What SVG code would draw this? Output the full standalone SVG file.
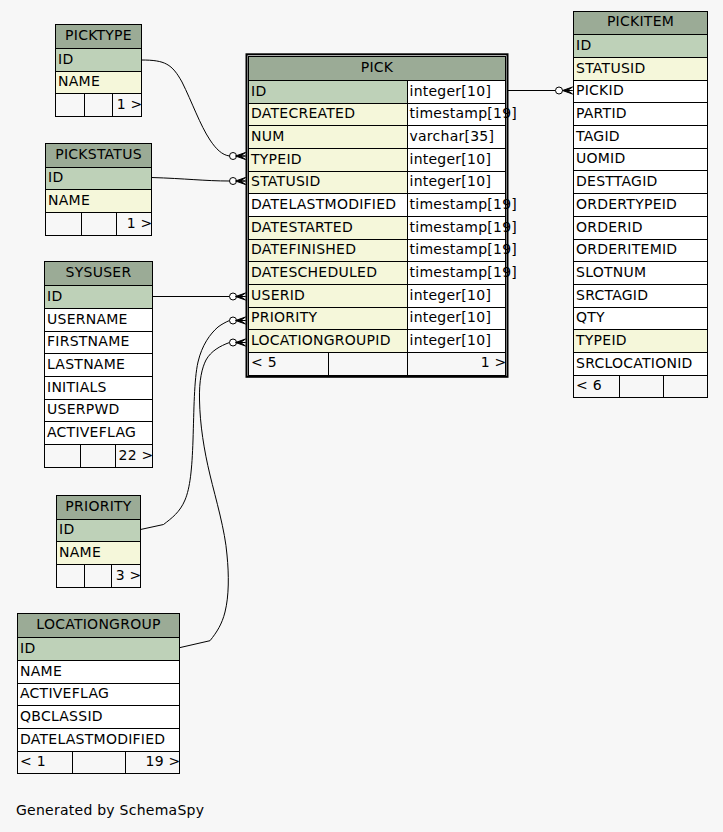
<svg xmlns="http://www.w3.org/2000/svg" xmlns:xlink="http://www.w3.org/1999/xlink" width="723" height="832" viewBox="0 0 723 832">
<style>
text{font-family:"DejaVu Sans","Liberation Sans",sans-serif;font-size:14px;letter-spacing:0.25px;fill:#000}
.c{text-anchor:middle}
.r{text-anchor:end}
rect{stroke:#000;stroke-width:1}
.hd{fill:#9bab96}
.pk{fill:#bed1b8}
.fk{fill:#f5f7da}
.pl{fill:#fff}
.ft{fill:none}
.dv{stroke:#000;stroke-width:1}
.edge{fill:none;stroke:#000;stroke-width:1}
.odot{fill:#fff;stroke:#000;stroke-width:1}
.crow{fill:#000;stroke:#000;stroke-width:1;stroke-linejoin:miter}
</style>
<defs>
<polygon id="crow" class="crow" points="-10,0 0,-3.5 -5,0 0,0 -5,0 0,3.5"/>
</defs>
<rect x="0" y="0" width="723" height="832" style="fill:#f7f7f7;stroke:none"/>

<g id="connectors">
<path class="edge" d="M141.5,60 C165,60 172,64 182,82 C192,102 200,125 210,140 C216,149 222,155 229.5,156"/>
<path class="edge" d="M151.5,177.5 C185,178.5 205,181 229.5,181"/>
<path class="edge" d="M152.5,296.5 L229.5,296.5"/>
<path class="edge" d="M140.5,529.5 L163.5,524.5 C172,518 180,512 185,500 C190,488 192,470 193,440 C194,410 194,380 198,362 C202,345 210,334 218,327 C222,324 226,322 229.5,320.5"/>
<path class="edge" d="M179.5,647.7 L210,640.7 C217,632 222,624 225,612 C229,596 229,575 227,555 C225,530 216,500 210,475 C204,450 200,425 199.5,400 C199,380 202,368 206,360 C211,351 220,346 229.5,342.5"/>
<path class="edge" d="M507.5,90.5 L555.5,90.5"/>
<circle class="odot" cx="233" cy="156" r="3.5"/>
<use xlink:href="#crow" href="#crow" transform="translate(245.5,156)"/>
<circle class="odot" cx="233" cy="181" r="3.5"/>
<use xlink:href="#crow" href="#crow" transform="translate(245.5,181)"/>
<circle class="odot" cx="233" cy="296.5" r="3.5"/>
<use xlink:href="#crow" href="#crow" transform="translate(245.5,296.5)"/>
<circle class="odot" cx="233" cy="320.5" r="3.5"/>
<use xlink:href="#crow" href="#crow" transform="translate(245.5,320.5)"/>
<circle class="odot" cx="233" cy="342.5" r="3.5"/>
<use xlink:href="#crow" href="#crow" transform="translate(245.5,342.5)"/>
<circle class="odot" cx="559" cy="90.5" r="3.5"/>
<use xlink:href="#crow" href="#crow" transform="translate(572.5,90.5)"/>
</g>

<g id="picktype">
<rect class="hd" x="55.5" y="24.5" width="86" height="24"/>
<rect class="pk" x="55.5" y="48.5" width="86" height="23"/>
<rect class="fk" x="55.5" y="71.5" width="86" height="22"/>
<rect class="ft" x="55.5" y="93.5" width="86" height="23"/>
<line class="dv" x1="84.5" y1="93.5" x2="84.5" y2="116.5"/>
<line class="dv" x1="112.5" y1="93.5" x2="112.5" y2="116.5"/>
<text class="c" x="98.5" y="39.5">PICKTYPE</text>
<text x="58" y="63.5">ID</text>
<text x="58" y="86">NAME</text>
<text class="r" x="142.5" y="108.5">1 &gt;</text>
</g>

<g id="pickstatus">
<rect class="hd" x="45.5" y="143.5" width="106" height="24"/>
<rect class="pk" x="45.5" y="167.5" width="106" height="22"/>
<rect class="fk" x="45.5" y="189.5" width="106" height="23"/>
<rect class="ft" x="45.5" y="212.5" width="106" height="23"/>
<line class="dv" x1="81.5" y1="212.5" x2="81.5" y2="235.5"/>
<line class="dv" x1="116.5" y1="212.5" x2="116.5" y2="235.5"/>
<text class="c" x="98.5" y="158.5">PICKSTATUS</text>
<text x="48" y="182">ID</text>
<text x="48" y="204.5">NAME</text>
<text class="r" x="152.5" y="227.5">1 &gt;</text>
</g>

<g id="sysuser">
<rect class="hd" x="44.5" y="261.5" width="108" height="24"/>
<rect class="pk" x="44.5" y="285.5" width="108" height="23"/>
<rect class="pl" x="44.5" y="308.5" width="108" height="23"/>
<rect class="pl" x="44.5" y="331.5" width="108" height="22"/>
<rect class="pl" x="44.5" y="353.5" width="108" height="23"/>
<rect class="pl" x="44.5" y="376.5" width="108" height="23"/>
<rect class="pl" x="44.5" y="399.5" width="108" height="22"/>
<rect class="pl" x="44.5" y="421.5" width="108" height="23"/>
<rect class="ft" x="44.5" y="444.5" width="108" height="23"/>
<line class="dv" x1="80.5" y1="444.5" x2="80.5" y2="467.5"/>
<line class="dv" x1="115.5" y1="444.5" x2="115.5" y2="467.5"/>
<text class="c" x="98.5" y="276.5">SYSUSER</text>
<text x="47" y="300.5">ID</text>
<text x="47" y="323.5">USERNAME</text>
<text x="47" y="346">FIRSTNAME</text>
<text x="47" y="368.5">LASTNAME</text>
<text x="47" y="391.5">INITIALS</text>
<text x="47" y="414">USERPWD</text>
<text x="47" y="436.5">ACTIVEFLAG</text>
<text class="r" x="153.5" y="459.5">22 &gt;</text>
</g>

<g id="priority">
<rect class="hd" x="56.5" y="495.5" width="84" height="24"/>
<rect class="pk" x="56.5" y="519.5" width="84" height="22"/>
<rect class="fk" x="56.5" y="541.5" width="84" height="23"/>
<rect class="ft" x="56.5" y="564.5" width="84" height="23"/>
<line class="dv" x1="84.5" y1="564.5" x2="84.5" y2="587.5"/>
<line class="dv" x1="111.5" y1="564.5" x2="111.5" y2="587.5"/>
<text class="c" x="98.5" y="510.5">PRIORITY</text>
<text x="59" y="534">ID</text>
<text x="59" y="556.5">NAME</text>
<text class="r" x="141.5" y="579.5">3 &gt;</text>
</g>

<g id="locationgroup">
<rect class="hd" x="17.5" y="613.5" width="162" height="24"/>
<rect class="pk" x="17.5" y="637.5" width="162" height="23"/>
<rect class="pl" x="17.5" y="660.5" width="162" height="23"/>
<rect class="pl" x="17.5" y="683.5" width="162" height="22"/>
<rect class="pl" x="17.5" y="705.5" width="162" height="23"/>
<rect class="pl" x="17.5" y="728.5" width="162" height="23"/>
<rect class="ft" x="17.5" y="751.5" width="162" height="22"/>
<line class="dv" x1="72.5" y1="751.5" x2="72.5" y2="773.5"/>
<line class="dv" x1="125.5" y1="751.5" x2="125.5" y2="773.5"/>
<text class="c" x="98.5" y="628.5">LOCATIONGROUP</text>
<text x="20" y="652.5">ID</text>
<text x="20" y="675.5">NAME</text>
<text x="20" y="698">ACTIVEFLAG</text>
<text x="20" y="720.5">QBCLASSID</text>
<text x="20" y="743.5">DATELASTMODIFIED</text>
<text x="20" y="766">&lt; 1</text>
<text class="r" x="180.5" y="766">19 &gt;</text>
</g>

<g id="pick">
<rect x="246.5" y="54.3" width="261" height="322.5" style="fill:none;stroke-width:2"/>
<rect class="hd" x="248.5" y="56.5" width="257" height="24"/>
<rect class="pk" x="248.5" y="80.5" width="159" height="23"/><rect class="pl" x="407.5" y="80.5" width="98" height="23"/>
<rect class="fk" x="248.5" y="103.5" width="159" height="22"/><rect class="pl" x="407.5" y="103.5" width="98" height="22"/>
<rect class="fk" x="248.5" y="125.5" width="159" height="23"/><rect class="pl" x="407.5" y="125.5" width="98" height="23"/>
<rect class="fk" x="248.5" y="148.5" width="159" height="23"/><rect class="pl" x="407.5" y="148.5" width="98" height="23"/>
<rect class="fk" x="248.5" y="171.5" width="159" height="22"/><rect class="pl" x="407.5" y="171.5" width="98" height="22"/>
<rect class="pl" x="248.5" y="193.5" width="159" height="23"/><rect class="pl" x="407.5" y="193.5" width="98" height="23"/>
<rect class="fk" x="248.5" y="216.5" width="159" height="23"/><rect class="pl" x="407.5" y="216.5" width="98" height="23"/>
<rect class="fk" x="248.5" y="239.5" width="159" height="22"/><rect class="pl" x="407.5" y="239.5" width="98" height="22"/>
<rect class="fk" x="248.5" y="261.5" width="159" height="23"/><rect class="pl" x="407.5" y="261.5" width="98" height="23"/>
<rect class="fk" x="248.5" y="284.5" width="159" height="23"/><rect class="pl" x="407.5" y="284.5" width="98" height="23"/>
<rect class="fk" x="248.5" y="307.5" width="159" height="22"/><rect class="pl" x="407.5" y="307.5" width="98" height="22"/>
<rect class="fk" x="248.5" y="329.5" width="159" height="23"/><rect class="pl" x="407.5" y="329.5" width="98" height="23"/>
<rect class="ft" x="248.5" y="352.5" width="257" height="23"/>
<line class="dv" x1="328.5" y1="352.5" x2="328.5" y2="375.5"/>
<line class="dv" x1="407.5" y1="352.5" x2="407.5" y2="375.5"/>
<text class="c" x="377" y="71.5">PICK</text>
<text x="251" y="95.5">ID</text><text x="409.5" y="95.5">integer[10]</text>
<text x="251" y="118">DATECREATED</text><text x="409.5" y="118">timestamp[19]</text>
<text x="251" y="140.5">NUM</text><text x="409.5" y="140.5">varchar[35]</text>
<text x="251" y="163.5">TYPEID</text><text x="409.5" y="163.5">integer[10]</text>
<text x="251" y="186">STATUSID</text><text x="409.5" y="186">integer[10]</text>
<text x="251" y="208.5">DATELASTMODIFIED</text><text x="409.5" y="208.5">timestamp[19]</text>
<text x="251" y="231.5">DATESTARTED</text><text x="409.5" y="231.5">timestamp[19]</text>
<text x="251" y="254">DATEFINISHED</text><text x="409.5" y="254">timestamp[19]</text>
<text x="251" y="276.5">DATESCHEDULED</text><text x="409.5" y="276.5">timestamp[19]</text>
<text x="251" y="299.5">USERID</text><text x="409.5" y="299.5">integer[10]</text>
<text x="251" y="322">PRIORITY</text><text x="409.5" y="322">integer[10]</text>
<text x="251" y="344.5">LOCATIONGROUPID</text><text x="409.5" y="344.5">integer[10]</text>
<text x="251" y="367">&lt; 5</text>
<text class="r" x="506.5" y="367">1 &gt;</text>
</g>

<g id="pickitem">
<rect class="hd" x="573.5" y="11.5" width="134" height="23"/>
<rect class="pk" x="573.5" y="34.5" width="134" height="23"/>
<rect class="fk" x="573.5" y="57.5" width="134" height="23"/>
<rect class="pl" x="573.5" y="80.5" width="134" height="22"/>
<rect class="pl" x="573.5" y="102.5" width="134" height="23"/>
<rect class="pl" x="573.5" y="125.5" width="134" height="23"/>
<rect class="pl" x="573.5" y="148.5" width="134" height="22"/>
<rect class="pl" x="573.5" y="170.5" width="134" height="23"/>
<rect class="pl" x="573.5" y="193.5" width="134" height="23"/>
<rect class="pl" x="573.5" y="216.5" width="134" height="23"/>
<rect class="pl" x="573.5" y="239.5" width="134" height="22"/>
<rect class="pl" x="573.5" y="261.5" width="134" height="23"/>
<rect class="pl" x="573.5" y="284.5" width="134" height="23"/>
<rect class="pl" x="573.5" y="307.5" width="134" height="22"/>
<rect class="fk" x="573.5" y="329.5" width="134" height="23"/>
<rect class="pl" x="573.5" y="352.5" width="134" height="23"/>
<rect class="ft" x="573.5" y="375.5" width="134" height="22"/>
<line class="dv" x1="619.5" y1="375.5" x2="619.5" y2="397.5"/>
<line class="dv" x1="663.5" y1="375.5" x2="663.5" y2="397.5"/>
<text class="c" x="640.5" y="26">PICKITEM</text>
<text x="576" y="49.5">ID</text>
<text x="576" y="72.5">STATUSID</text>
<text x="576" y="95">PICKID</text>
<text x="576" y="117.5">PARTID</text>
<text x="576" y="140.5">TAGID</text>
<text x="576" y="163">UOMID</text>
<text x="576" y="185.5">DESTTAGID</text>
<text x="576" y="208.5">ORDERTYPEID</text>
<text x="576" y="231.5">ORDERID</text>
<text x="576" y="254">ORDERITEMID</text>
<text x="576" y="276.5">SLOTNUM</text>
<text x="576" y="299.5">SRCTAGID</text>
<text x="576" y="322">QTY</text>
<text x="576" y="344.5">TYPEID</text>
<text x="576" y="367.5">SRCLOCATIONID</text>
<text x="576" y="390">&lt; 6</text>
</g>

<text x="16" y="815">Generated by SchemaSpy</text>
</svg>
